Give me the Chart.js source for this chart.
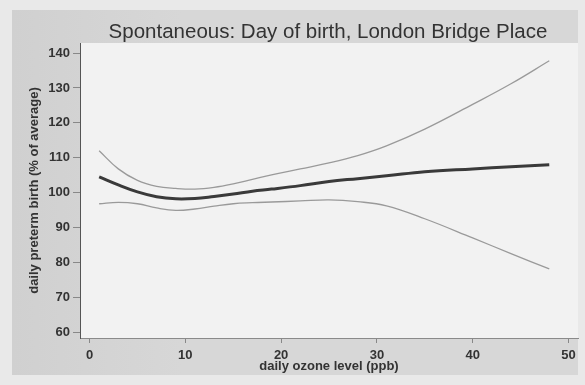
<!DOCTYPE html>
<html>
<head>
<meta charset="utf-8">
<style>
  html, body { margin: 0; padding: 0; background: #e9e9e9; }
  #wrap { width: 585px; height: 385px; }
</style>
<script src="https://cdn.jsdelivr.net/npm/chart.js@4"></script>
</head>
<body>
<div id="wrap"><canvas id="ozone-chart" width="585" height="385"></canvas></div>
<script>
        // Ozone levels (ppb) and the fitted curve with its confidence band
        const ozone    = [1, 3, 5, 7, 9, 11, 13, 15, 17, 19, 22, 25, 28, 31, 35, 40, 44, 48];
        const estimate = [104.5, 102.2, 100.2, 98.8, 98.2, 98.3, 98.9, 99.6, 100.4, 101.0, 102.0, 103.2, 104.0, 104.8, 106.0, 106.8, 107.4, 108.0];
        const upperCI  = [112.0, 106.8, 103.5, 101.8, 101.2, 101.0, 101.5, 102.5, 103.8, 105.1, 106.8, 108.5, 110.6, 113.4, 118.2, 125.3, 131.2, 137.8];
        const lowerCI  = [96.8, 97.2, 96.8, 95.6, 94.9, 95.3, 96.1, 96.8, 97.1, 97.3, 97.6, 97.9, 97.4, 96.2, 92.5, 87.0, 82.5, 78.1];

        const yTicks = [60, 70, 80, 90, 100, 110, 120, 130, 140];
        const xTicks = [0, 10, 20, 30, 40, 50];

        const titleText = 'Spontaneous: Day of birth, London Bridge Place';

        const toPoints = (vals) => ozone.map((x, i) => ({ x: x, y: vals[i] }));

        // Gray panel behind everything, light plotting region
        const panelBackground = {
            id: 'panelBackground',
            beforeDraw(chart) {
                const { ctx, chartArea } = chart;
                ctx.save();
                ctx.fillStyle = '#e9e9e9';
                ctx.fillRect(0, 0, chart.width, chart.height);
                const grad = ctx.createLinearGradient(12, 0, 578, 0);
                grad.addColorStop(0, '#d0d0d0');
                grad.addColorStop(0.3, '#d7d7d7');
                grad.addColorStop(1, '#d7d7d7');
                ctx.fillStyle = grad;
                ctx.fillRect(12, 10, 566, 365);
                ctx.fillStyle = '#f2f2f2';
                ctx.fillRect(chartArea.left, chartArea.top, chartArea.right - chartArea.left, chartArea.bottom - chartArea.top);
                ctx.restore();
            }
        };

        // Heading above the plot
        const heading = {
            id: 'heading',
            afterDraw(chart) {
                const { ctx } = chart;
                ctx.save();
                ctx.font = '20.5px "Liberation Sans", Arial, sans-serif';
                ctx.fillStyle = '#333';
                ctx.textAlign = 'center';
                ctx.textBaseline = 'alphabetic';
                ctx.fillText(titleText, 328, 38);
                ctx.restore();
            }
        };

        const tickFont = { family: '"Liberation Sans", Arial, sans-serif', size: 13, weight: 'bold' };

        const myChart = new Chart(document.getElementById('ozone-chart'), {
            type: 'line',
            data: {
                datasets: [{
                    label: 'upper',
                    data: toPoints(upperCI),
                    borderColor: '#9a9a9a',
                    borderWidth: 1.3,
                    pointRadius: 0,
                    tension: 0.4
                }, {
                    label: 'estimate',
                    data: toPoints(estimate),
                    borderColor: '#3a3a3a',
                    borderWidth: 3,
                    pointRadius: 0,
                    tension: 0.4
                }, {
                    label: 'lower',
                    data: toPoints(lowerCI),
                    borderColor: '#9a9a9a',
                    borderWidth: 1.3,
                    pointRadius: 0,
                    tension: 0.4
                }]
            },
            options: {
                responsive: false,
                animation: false,
                layout: { padding: { top: 43, right: 7, left: 0, bottom: 0 } },
                plugins: {
                    legend: { display: false },
                    tooltip: { enabled: false },
                    title: { display: false }
                },
                scales: {
                    x: {
                        type: 'linear',
                        min: -1,
                        max: 51,
                        afterBuildTicks: (scale) => { scale.ticks = xTicks.map(v => ({ value: v })); },
                        afterFit: (scale) => { scale.height = 47; },
                        grid: { drawOnChartArea: false, tickLength: 5, color: '#888' },
                        border: { color: '#8a8a8a', width: 1 },
                        ticks: { font: tickFont, color: '#333', padding: 5, maxRotation: 0 },
                        title: {
                            display: true,
                            text: 'daily ozone level (ppb)',
                            font: tickFont,
                            color: '#333',
                            padding: { top: 0, bottom: 11 }
                        }
                    },
                    y: {
                        min: 58.3,
                        max: 142.9,
                        afterBuildTicks: (scale) => { scale.ticks = yTicks.map(v => ({ value: v })); },
                        afterFit: (scale) => { scale.width = 80; },
                        grid: { drawOnChartArea: false, tickLength: 7, color: '#888' },
                        border: { color: '#555', width: 1 },
                        ticks: { font: tickFont, color: '#333', padding: 3 },
                        title: {
                            display: true,
                            text: 'daily preterm birth (% of average)',
                            font: tickFont,
                            color: '#333',
                            padding: { top: 27, bottom: 0 }
                        }
                    }
                }
            },
            plugins: [panelBackground, heading]
        });
</script>
</body>
</html>
